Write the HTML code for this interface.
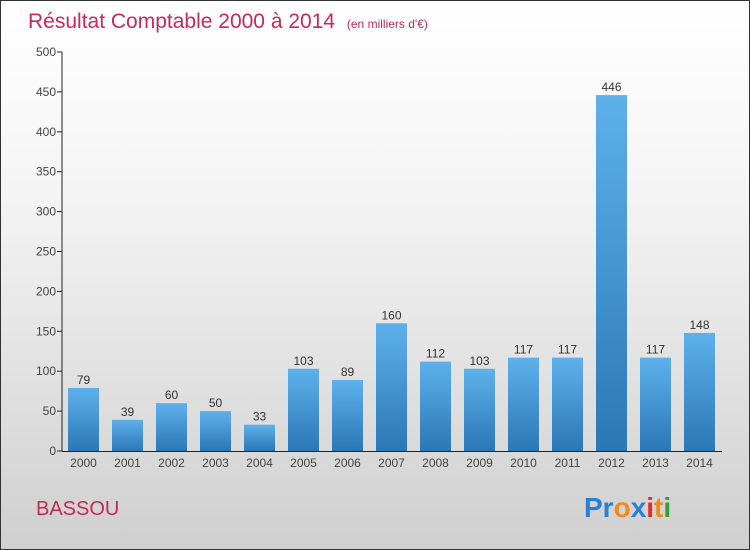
<!DOCTYPE html>
<html><head><meta charset="utf-8"><style>
body{margin:0}
#wrap{width:748px;height:548px;border:1px solid #333;background:linear-gradient(#ffffff 0%,#f4f4f4 35%,#cfcfcf 100%);position:relative;font-family:"Liberation Sans",sans-serif;overflow:hidden}
svg{position:absolute;left:0;top:0}
</style></head><body>
<div id="wrap">
<svg id="c" width="750" height="550">
<defs><linearGradient id="bg" x1="0" y1="0" x2="0" y2="1"><stop offset="0" stop-color="#5eb0ea"/><stop offset="1" stop-color="#2a78b6"/></linearGradient></defs>
<text x="27" y="27" font-size="21" fill="#c8285a">Résultat Comptable 2000 à 2014 <tspan font-size="12" dx="6">(en milliers d'€)</tspan></text>
<text x="35" y="514" font-size="20" fill="#c8285a">BASSOU</text>
<text x="583" y="516" font-size="28" font-weight="bold"><tspan fill="#2a7fd0">Pr</tspan><tspan fill="#f28a1a">o</tspan><tspan fill="#2a7fd0">x</tspan><tspan fill="#e03020">i</tspan><tspan fill="#f28a1a">t</tspan><tspan fill="#3a9a3a">i</tspan></text>
</svg>
</div>
<script>
const categories=["2000","2001","2002","2003","2004","2005","2006","2007","2008","2009","2010","2011","2012","2013","2014"];
const values=[79,39,60,50,33,103,89,160,112,103,117,117,446,117,148];
const yTicks=[0,50,100,150,200,250,300,350,400,450,500];
const svg=document.getElementById('c');
const NS='http://www.w3.org/2000/svg';
const y0=450,yTop=51,yMax=500;
const ys=v=>y0-(v/yMax)*(y0-yTop);
const xc=i=>82.5+i*44;
function mk(t,a){const e=document.createElementNS(NS,t);for(const k in a)e.setAttribute(k,a[k]);svg.appendChild(e);return e;}
yTicks.forEach(t=>{
 const g=mk('line',{x1:56,x2:61,y1:ys(t),y2:ys(t),stroke:'#222'});
 
 
 const l=mk('text',{x:55,y:ys(t)+4,'font-size':12,fill:'#444','text-anchor':'end'});
 l.textContent=t;
 
 
});
values.forEach((v,i)=>{
 const r=mk('rect',{x:xc(i)-15.5,y:ys(v),width:31,height:y0-ys(v),fill:'url(#bg)'});
 
 
 const t=mk('text',{x:xc(i),y:ys(v)-4,'font-size':12,fill:'#333','text-anchor':'middle'});
 t.textContent=v;
 
 
 const c=mk('text',{x:xc(i),y:466,'font-size':12,fill:'#444','text-anchor':'middle'});
 c.textContent=categories[i];
 
 
});
const ya=mk('line',{x1:61,x2:61,y1:yTop,y2:y0,stroke:'#222'});


const xa=mk('line',{x1:61,x2:721,y1:y0+0.5,y2:y0+0.5,stroke:'#222'});


</script>
</body></html>
